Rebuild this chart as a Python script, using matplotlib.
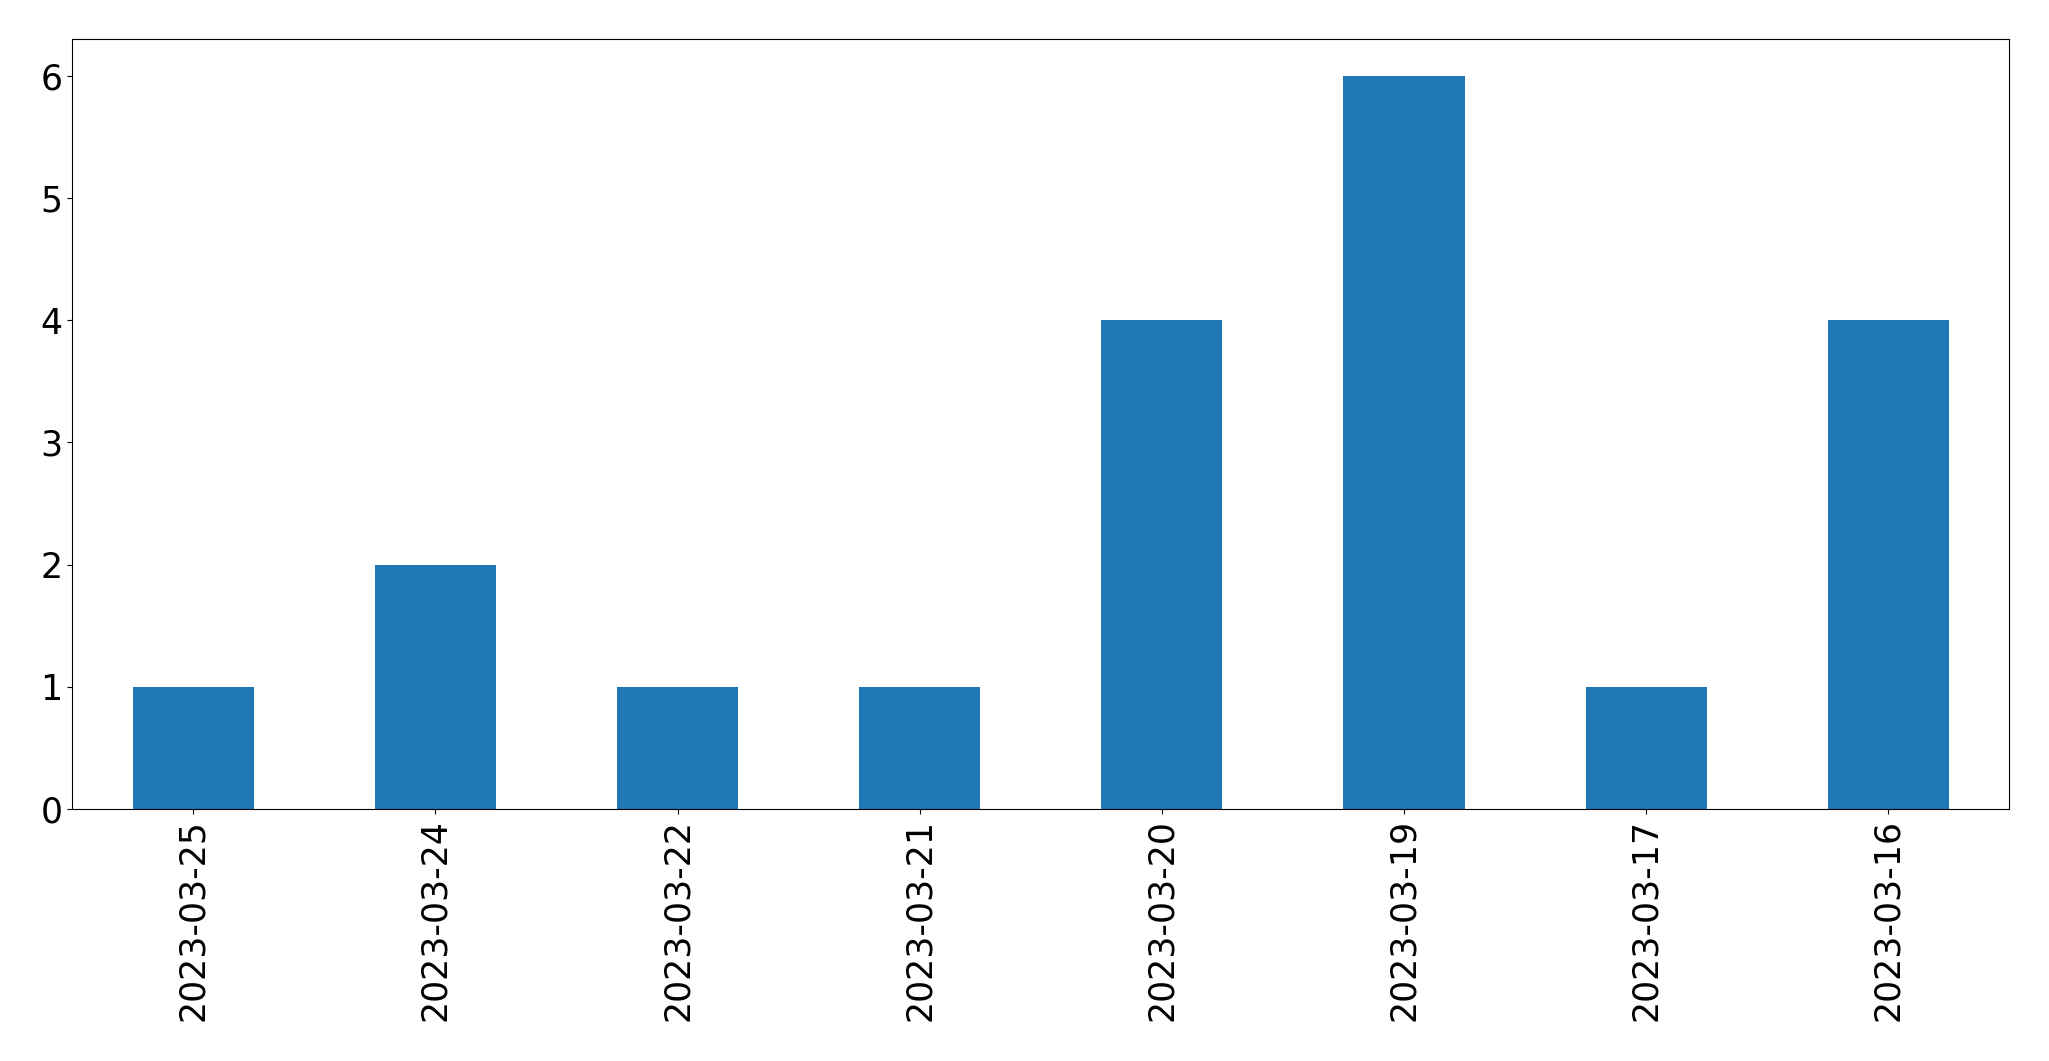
import matplotlib
matplotlib.use("Agg")
import matplotlib.pyplot as plt
import pandas as pd

# 日付ごとの件数
dates = ["2023-03-25", "2023-03-24", "2023-03-22", "2023-03-21",
         "2023-03-20", "2023-03-19", "2023-03-17", "2023-03-16"]
counts = [1, 2, 1, 1, 4, 6, 1, 4]

s = pd.Series(counts, index=dates)

fig = plt.figure(figsize=(20.49, 10.61), dpi=100)
ax = fig.add_axes([72.3 / 2049, 1 - 809 / 1061, (2009.3 - 72.3) / 2049, (809 - 39.3) / 1061])
s.plot(kind="bar", ax=ax, fontsize=25, color="#1f77b4")

fig.savefig("out.png", dpi=100)
